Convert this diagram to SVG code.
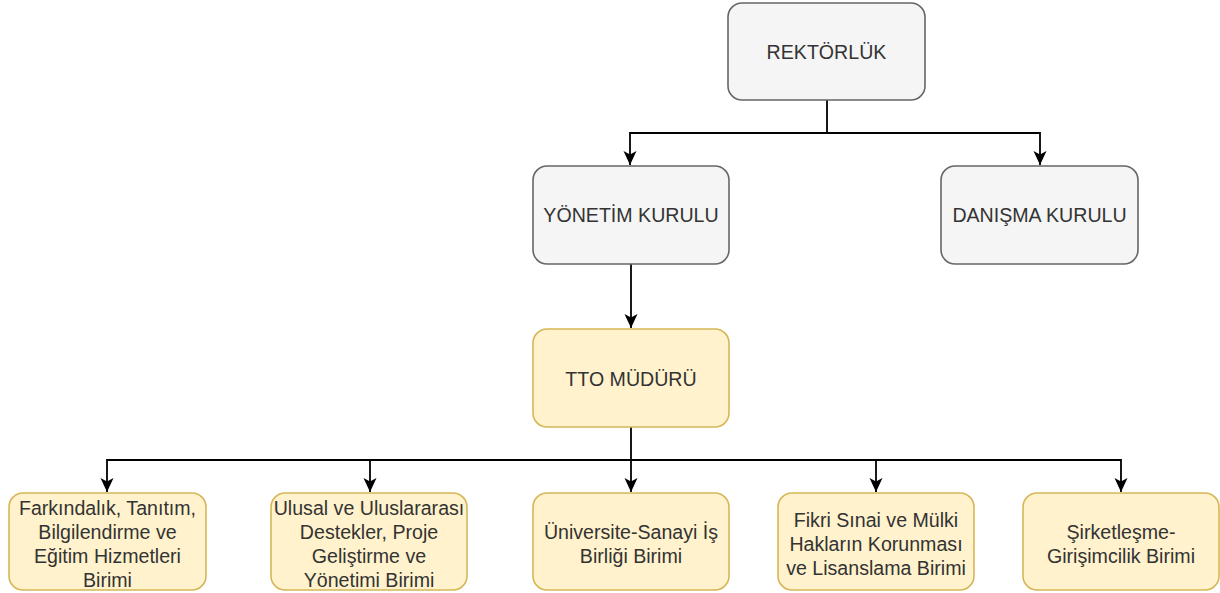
<svg xmlns="http://www.w3.org/2000/svg" width="1220" height="593" viewBox="0 0 1220 593">
<style>
.g{fill:#f5f5f5;stroke:#666666;stroke-width:1.6}
.y{fill:#fff2cc;stroke:#d6b656;stroke-width:1.6}
text{font-family:"Liberation Sans",Arial,sans-serif;font-size:19.6px;fill:#333333;text-anchor:middle}
.c{fill:none;stroke:#000000;stroke-width:1.8}
</style>
<defs>
<marker id="a" markerWidth="16" markerHeight="16" viewBox="0 0 16 16" refX="15" refY="8" orient="auto" markerUnits="userSpaceOnUse">
<path d="M1,1.5 L15,8 L1,14.5 L4.5,8 Z" fill="#000"/>
</marker>
</defs>
<g id="connectors">
<path class="c" d="M827,100 V133 H630 V165" marker-end="url(#a)"/>
<path class="c" d="M827,133 H1040 V165" marker-end="url(#a)"/>
<path class="c" d="M631,264 V328" marker-end="url(#a)"/>
<path class="c" d="M631,427 V460 H107 V492" marker-end="url(#a)"/>
<path class="c" d="M631,460 V492" marker-end="url(#a)"/>
<path class="c" d="M370,460 V492" marker-end="url(#a)"/>
<path class="c" d="M631,460 H1121 V492" marker-end="url(#a)"/>
<path class="c" d="M876,460 V492" marker-end="url(#a)"/>
</g>
<g id="rektorluk"><rect class="g" x="728" y="3" width="197" height="97" rx="14"/><text x="826.5" y="59">REKTÖRLÜK</text></g>
<g id="yonetim"><rect class="g" x="533" y="166" width="196" height="98" rx="14"/><text x="631" y="222">YÖNETİM KURULU</text></g>
<g id="danisma"><rect class="g" x="941" y="166" width="197" height="98" rx="14"/><text x="1039.5" y="222">DANIŞMA KURULU</text></g>
<g id="tto"><rect class="y" x="533" y="329" width="196" height="98" rx="14"/><text x="631" y="386">TTO MÜDÜRÜ</text></g>
<g id="b1"><rect class="y" x="9" y="493" width="197" height="97" rx="14"/>
<text x="107.5" y="515">Farkındalık, Tanıtım,</text><text x="107.5" y="539">Bilgilendirme ve</text><text x="107.5" y="563">Eğitim Hizmetleri</text><text x="107.5" y="587">Birimi</text></g>
<g id="b2"><rect class="y" x="271" y="493" width="196" height="97" rx="14"/>
<text x="369" y="515">Ulusal ve Uluslararası</text><text x="369" y="539">Destekler, Proje</text><text x="369" y="563">Geliştirme ve</text><text x="369" y="587">Yönetimi Birimi</text></g>
<g id="b3"><rect class="y" x="533" y="493" width="196" height="97" rx="14"/>
<text x="631" y="539">Üniversite-Sanayi İş</text><text x="631" y="563">Birliği Birimi</text></g>
<g id="b4"><rect class="y" x="778" y="493" width="196" height="97" rx="14"/>
<text x="876" y="527">Fikri Sınai ve Mülki</text><text x="876" y="551">Hakların Korunması</text><text x="876" y="575">ve Lisanslama Birimi</text></g>
<g id="b5"><rect class="y" x="1023" y="493" width="196" height="97" rx="14"/>
<text x="1121" y="539">Şirketleşme-</text><text x="1121" y="563">Girişimcilik Birimi</text></g>
</svg>
